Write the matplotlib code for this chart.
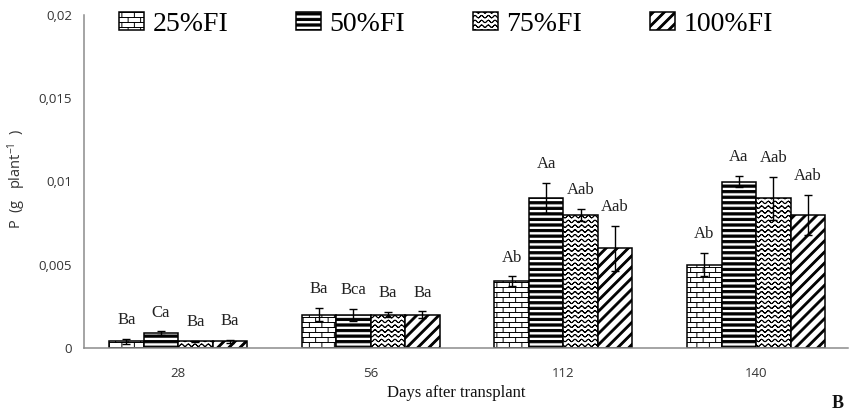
import warnings
import numpy as np
import matplotlib
matplotlib.use("Agg")
import matplotlib.pyplot as plt
import matplotlib.hatch as mhatch
from matplotlib.path import Path

warnings.filterwarnings("ignore")

# ---- data -------------------------------------------------------------
days = ["28", "56", "112", "140"]
treatments = ["25%FI", "50%FI", "75%FI", "100%FI"]

p_25 = [0.0004, 0.0020, 0.0040, 0.0050]
p_50 = [0.0009, 0.0020, 0.0090, 0.0100]
p_75 = [0.0004, 0.0020, 0.0080, 0.0090]
p_100 = [0.0004, 0.0020, 0.0060, 0.0080]

sd_25 = [0.00015, 0.00040, 0.00030, 0.00070]
sd_50 = [0.00010, 0.00035, 0.00090, 0.00035]
sd_75 = [0.00005, 0.00015, 0.00035, 0.00130]
sd_100 = [0.00010, 0.00020, 0.00135, 0.00120]

let_25 = ["Ba", "Ba", "Ab", "Ab"]
let_50 = ["Ca", "Bca", "Aa", "Aa"]
let_75 = ["Ba", "Ba", "Aab", "Aab"]
let_100 = ["Ba", "Ba", "Aab", "Aab"]

ytick_vals = [0, 0.005, 0.01, 0.015, 0.02]
ytick_labels = ["0", "0,005", "0,01", "0,015", "0,02"]


# ---- custom fill patterns (brick, thick stripes, waves, thick diagonals) --
def _segments_to_path(segs):
    v, c = [], []
    for (x0, y0), (x1, y1) in segs:
        v += [(x0, y0), (x1, y1)]
        c += [Path.MOVETO, Path.LINETO]
    return np.array(v, float), np.array(c, dtype=Path.code_type)


def _polys_to_path(polys):
    v, c = [], []
    for poly in polys:
        v += list(poly) + [poly[0]]
        c += [Path.MOVETO] + [Path.LINETO] * (len(poly) - 1) + [Path.CLOSEPOLY]
    return np.array(v, float), np.array(c, dtype=Path.code_type)


def _brick():
    rows, cols = 20, 8
    segs = []
    for r in range(rows):
        y = (r + 0.5) / rows
        segs.append(((0.0, y), (1.0, y)))
    for r in range(rows):
        lo, hi = (r - 0.5) / rows, (r + 0.5) / rows
        spans = [(max(lo, 0.0), hi)]
        if lo < 0:
            spans.append((1.0 + lo, 1.0))
        for j in range(cols):
            x = (j + 0.25 + 0.5 * (r % 2)) / cols
            for a, b in spans:
                segs.append(((x, a), (x, b)))
    return _segments_to_path(segs)


def _stripes():
    n, half = 18, 0.011
    polys = []
    for k in range(n):
        y = (k + 0.5) / n
        polys.append([(0, y - half), (1, y - half), (1, y + half), (0, y + half)])
    return _polys_to_path(polys)


def _waves():
    rows, waves, amp, pts = 21, 15, 0.012, 8
    segs = []
    xs = np.linspace(0, 1, waves * pts + 1)
    for r in range(rows):
        y0 = (r + 0.5) / rows
        ys = y0 + amp * np.sin(2 * np.pi * waves * xs)
        for i in range(len(xs) - 1):
            segs.append(((xs[i], ys[i]), (xs[i + 1], ys[i + 1])))
    return _segments_to_path(segs)


def _diagonals():
    n, w = 9, 0.026
    polys = []
    for k in range(-n, n):
        c = k / n
        polys.append([(0, c), (1, 1 + c), (1, 1 + c + w), (0, c + w)])
    return _polys_to_path(polys)


def _make_pattern(key, builder):
    class _Pattern(mhatch.HatchPatternBase):
        def __init__(self, hatch, density):
            if key in hatch:
                self.v, self.c = builder()
            else:
                self.v = np.empty((0, 2))
                self.c = np.empty(0, dtype=Path.code_type)
            self.num_vertices = len(self.v)

        def set_vertices_and_codes(self, vertices, codes):
            vertices[:] = self.v
            codes[:] = self.c
    return _Pattern


mhatch._hatch_types.extend([
    _make_pattern("B", _brick),
    _make_pattern("H", _stripes),
    _make_pattern("W", _waves),
    _make_pattern("D", _diagonals),
])

plt.rcParams["hatch.linewidth"] = 0.7
plt.rcParams["hatch.color"] = "black"
plt.rcParams["mathtext.default"] = "regular"

# ---- figure -----------------------------------------------------------
W, H = 849, 416
fig = plt.figure(figsize=(W / 100, H / 100), dpi=100)
ax = fig.add_axes([84 / W, (H - 348) / H, (848 - 84) / W, (348 - 15) / H])

values = [p_25, p_50, p_75, p_100]
errors = [sd_25, sd_50, sd_75, sd_100]
letters = [let_25, let_50, let_75, let_100]
hatches = ["B", "H", "W", "D"]

x = np.arange(len(days))
bw = 0.179
sans = "Open Sans"
serif = "Liberation Serif"

for i, (vals, errs, lets, hp, name) in enumerate(zip(values, errors, letters, hatches, treatments)):
    pos = x + (i - 1.5) * bw
    ax.bar(pos, vals, bw, facecolor="white", edgecolor="black", linewidth=1.1,
           hatch=hp, label=name, zorder=2)
    ax.errorbar(pos, vals, yerr=errs, fmt="none", ecolor="black", elinewidth=1.0,
                capsize=3.2, capthick=1.0, zorder=3)
    for px, v, e, t in zip(pos, vals, errs, lets):
        ax.annotate(t, (px, v + e), xytext=(0, 13.5), textcoords="offset points",
                    ha="center", va="center", fontsize=12, family=serif,
                    color="#222222")

ax.set_xlim(-0.488, (848 - 178) / 192.7)
ax.set_ylim(0, 0.02)
ax.set_xticks(x)
ax.set_xticklabels(days, family=sans, fontsize=9.5, color="#333333")
ax.set_yticks(ytick_vals)
ax.set_yticklabels(ytick_labels, family=sans, fontsize=9.5, color="#333333")
ax.tick_params(axis="both", length=0)
ax.tick_params(axis="y", pad=8.5)
ax.tick_params(axis="x", pad=14)

for s in ("top", "right"):
    ax.spines[s].set_visible(False)
for s in ("left", "bottom"):
    ax.spines[s].set_color("#8c8c8c")
    ax.spines[s].set_linewidth(1.1)

fig.text(456 / W, 1 - 393 / H, "Days after transplant", family=serif, fontsize=12,
         ha="center", va="center", color="#111111")
fig.text(17 / W, 1 - 179 / H, "P  (g   plant$^{-1}$  )", family=sans, fontsize=10.5,
         rotation=90, ha="center", va="center", color="#333333")
fig.text(838 / W, 1 - 404 / H, "B", family=serif, fontsize=13, fontweight="bold",
         ha="center", va="center", color="#111111")

fig.legend(loc="upper left", bbox_to_anchor=(119 / W, 1 - 12 / H), ncol=4,
           frameon=False, prop={"family": serif, "size": 20},
           handlelength=0.9, handleheight=0.6, handletextpad=0.3,
           columnspacing=2.45, borderpad=0, borderaxespad=0)

fig.savefig("out.png", dpi=100)
